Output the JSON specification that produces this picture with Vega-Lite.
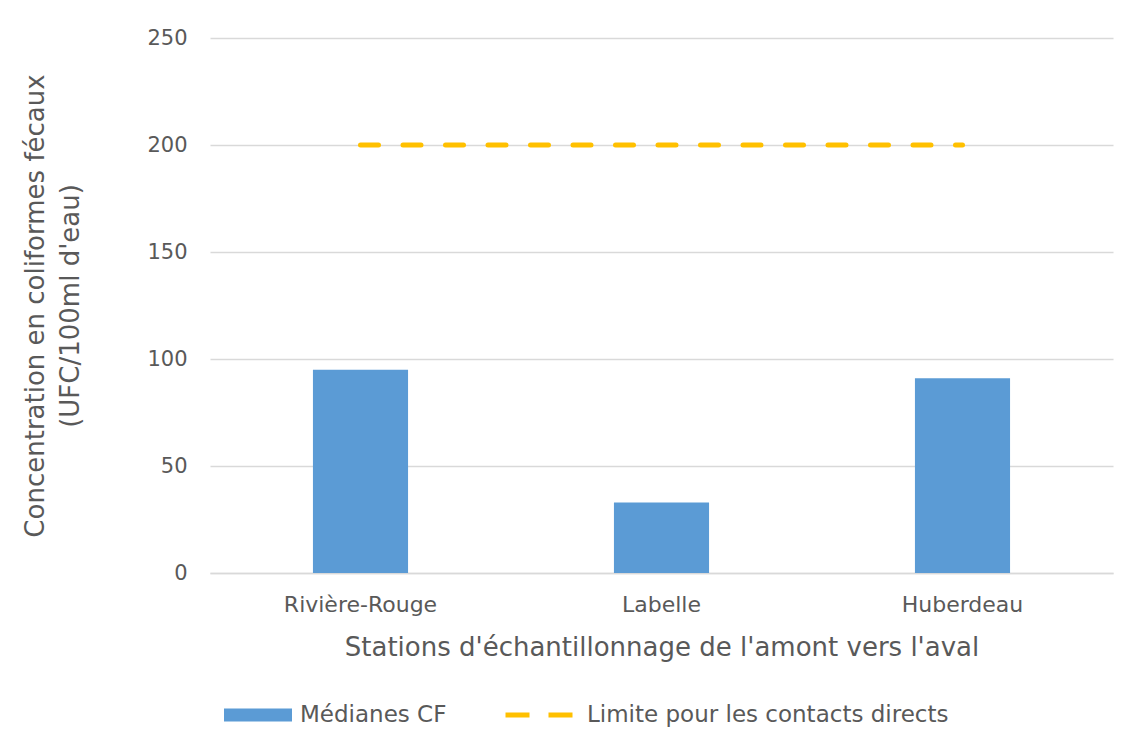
{
  "$schema": "https://vega.github.io/schema/vega-lite/v6.json",
  "autosize": {"type": "none"},
  "width": 903,
  "height": 535,
  "padding": {"left": 210, "top": 38, "right": 19, "bottom": 176},
  "background": "#ffffff",
  "config": {
    "view": {"stroke": null},
    "font": "DejaVu Sans",
    "axis": {
      "labelFont": "DejaVu Sans",
      "titleFont": "DejaVu Sans",
      "labelColor": "#595959",
      "titleColor": "#595959",
      "titleFontWeight": "normal",
      "gridColor": "#d9d9d9",
      "gridWidth": 1.5,
      "ticks": false
    },
    "legend": {
      "labelFont": "DejaVu Sans",
      "labelColor": "#595959",
      "labelFontSize": 23,
      "labelLimit": 0,
      "padding": 0,
      "titlePadding": 0
    }
  },
  "data": {
    "values": [
      {"station": "Rivière-Rouge", "mediane": 95, "limite": 200},
      {"station": "Labelle", "mediane": 33, "limite": 200},
      {"station": "Huberdeau", "mediane": 91, "limite": 200}
    ]
  },
  "encoding": {
    "x": {
      "field": "station",
      "type": "nominal",
      "sort": null,
      "scale": {"paddingInner": 0.684, "paddingOuter": 0.342},
      "axis": {
        "title": "Stations d'échantillonnage de l'amont vers l'aval",
        "titleFontSize": 26,
        "titlePadding": 19,
        "labelFontSize": 22,
        "labelAngle": 0,
        "labelPadding": 21,
        "domainColor": "#d9d9d9",
        "domainWidth": 1.5,
        "grid": false
      }
    }
  },
  "layer": [
    {
      "mark": {"type": "bar", "fill": "#5b9bd5"},
      "encoding": {
        "y": {
          "field": "mediane",
          "type": "quantitative",
          "scale": {"domain": [0, 250], "nice": false, "zero": true},
          "axis": {
            "title": ["Concentration en coliformes fécaux", "(UFC/100ml d'eau)"],
            "titleFontSize": 26,
            "titleLineHeight": 35,
            "titlePadding": 63,
            "labelFontSize": 21,
            "labelPadding": 23,
            "values": [0, 50, 100, 150, 200, 250],
            "domain": false,
            "grid": true
          }
        },
        "fill": {
          "datum": "Médianes CF",
          "scale": {"range": ["#5b9bd5"]},
          "legend": {
            "title": null,
            "orient": "none",
            "legendX": 14,
            "legendY": 643,
            "symbolType": "M-1,-0.191H1V0.191H-1Z",
            "symbolSize": 4624,
            "symbolStrokeWidth": 0,
            "labelOffset": 8
          }
        }
      }
    },
    {
      "mark": {
        "type": "line",
        "strokeWidth": 5,
        "strokeDash": [18, 24.5],
        "strokeCap": "round"
      },
      "encoding": {
        "x": {"field": "station", "type": "nominal", "sort": null, "bandPosition": 0.5},
        "y": {
          "field": "limite",
          "type": "quantitative",
          "scale": {"domain": [0, 250], "nice": false, "zero": true}
        },
        "stroke": {
          "datum": "Limite pour les contacts directs",
          "scale": {"range": ["#ffc000"]},
          "legend": {
            "title": null,
            "orient": "none",
            "legendX": 293,
            "legendY": 641,
            "symbolType": "stroke",
            "symbolSize": 4489,
            "symbolStrokeWidth": 5,
            "symbolDash": [24, 19],
            "labelOffset": 12
          }
        }
      }
    }
  ]
}
